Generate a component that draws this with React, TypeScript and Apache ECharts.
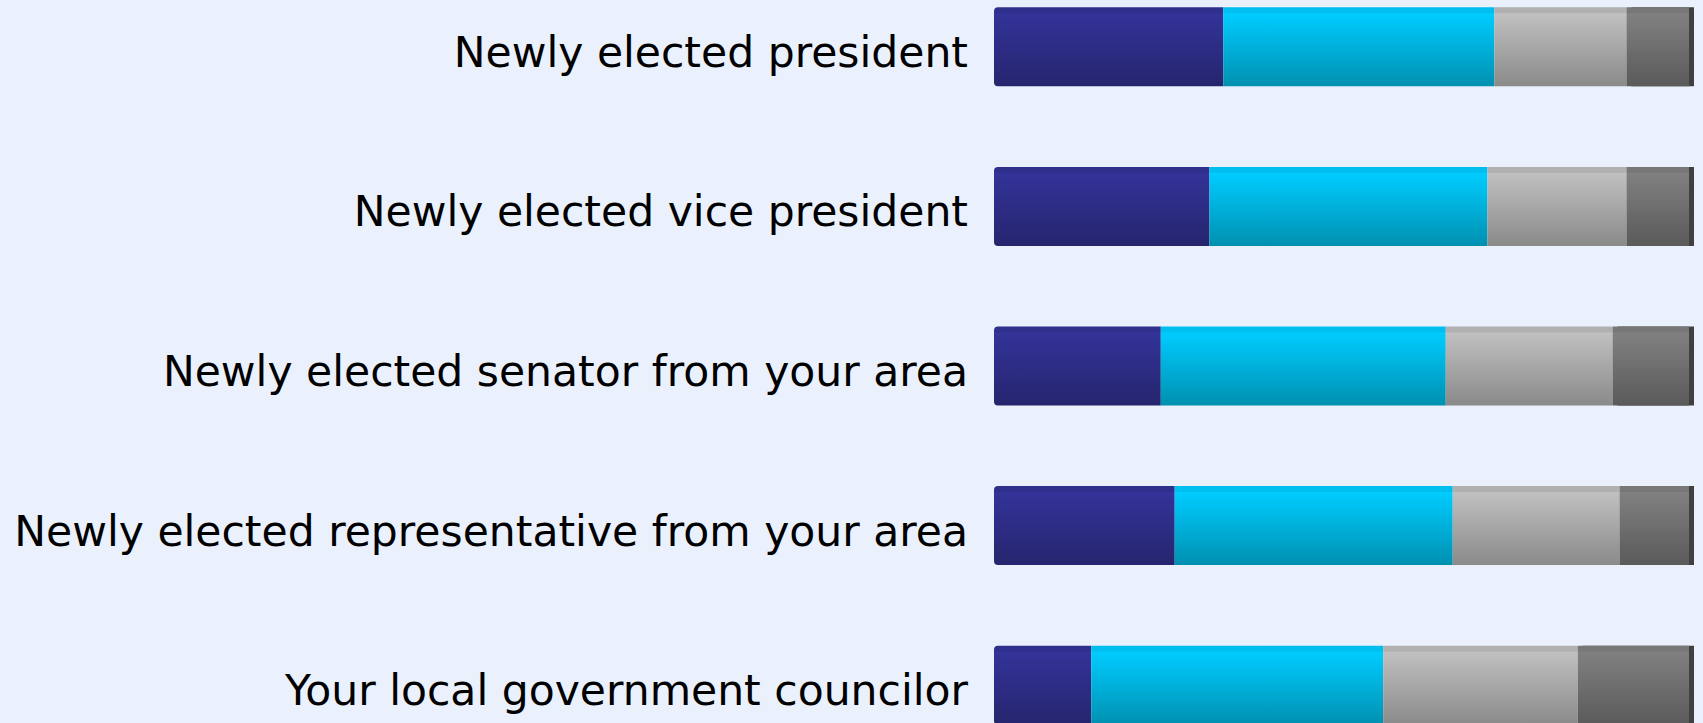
import React, { useEffect, useRef } from "react";
import * as echarts from "echarts";

const categories = [
  "Newly elected president",
  "Newly elected vice president",
  "Newly elected senator from your area",
  "Newly elected representative from your area",
  "Your local government councilor",
];
const seriesNames = ["A great deal", "A fair amount", "Not very much", "None at all"];
const greatDeal = [33, 31, 24, 26, 14];
const fairAmount = [39, 40, 41, 40, 42];
const notMuch = [19, 20, 24, 24, 28];
const noneAtAll = [9, 9, 11, 10, 16];

const grad = (top: string, mid: string, bottom: string) =>
  new echarts.graphic.LinearGradient(0, 0, 0, 1, [
    { offset: 0, color: mid },
    { offset: 0.07, color: mid },
    { offset: 0.08, color: top },
    { offset: 1, color: bottom },
  ]);

export default function App() {
  const ref = useRef<HTMLDivElement>(null);
  useEffect(() => {
    const chart = echarts.init(ref.current!, undefined, { renderer: "svg" });
    const values = [greatDeal, fairAmount, notMuch, noneAtAll];
    const fills = [
      grad("#333399", "#2f2f8c", "#25256e"),
      grad("#00ccff", "#00bfee", "#0090b0"),
      grad("#c0c0c0", "#b0b0b0", "#8a8a8a"),
      grad("#808080", "#777777", "#5a5a5a"),
    ];
    chart.setOption({
      animation: false,
      backgroundColor: "#eaf1fd",
      grid: { left: 994, width: 695, top: 0, bottom: 0, containLabel: false },
      xAxis: { type: "value", min: 0, max: 100, show: false },
      yAxis: {
        type: "category",
        data: categories,
        inverse: true,
        axisLine: { show: false },
        axisTick: { show: false },
        axisLabel: {
          color: "#000000",
          fontSize: 42.5,
          fontFamily: "DejaVu Sans",
          margin: 26,
          verticalAlign: "top",
          lineHeight: 11,
        },
      },
      series: values.map((v, i) => ({
        name: seriesNames[i],
        type: "bar",
        stack: "total",
        barWidth: 79,
        data: v,
        itemStyle: {
          color: fills[i],
          borderRadius: i === 0 ? [4, 0, 0, 4] : 0,
          ...(i === 3
            ? { shadowColor: "#404040", shadowOffsetX: 5, shadowOffsetY: 0, shadowBlur: 0 }
            : {}),
        },
      })),
    });
    return () => chart.dispose();
  }, []);
  return (
    <div
      style={{
        position: "absolute",
        left: 0,
        top: 0,
        width: 1703,
        height: 723,
        overflow: "hidden",
        background: "#eaf1fd",
      }}
    >
      <div
        ref={ref}
        style={{ position: "absolute", left: 0, top: -33, width: 1703, height: 798 }}
      />
    </div>
  );
}
